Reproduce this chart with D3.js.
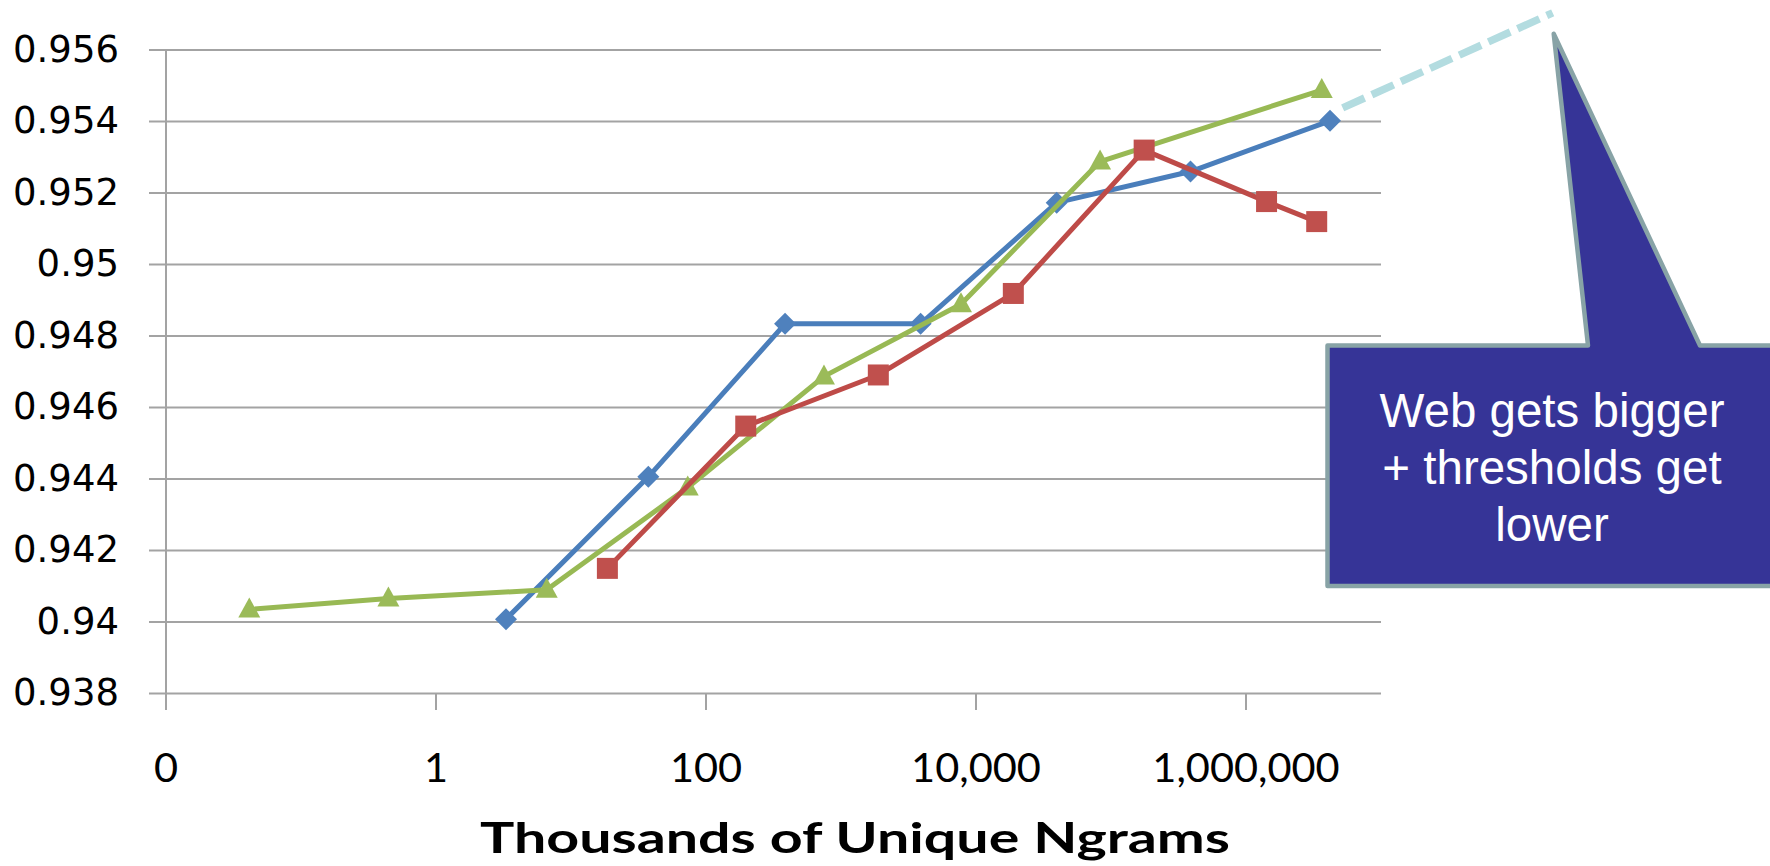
<!DOCTYPE html>
<html><head><meta charset="utf-8">
<script src="https://cdn.jsdelivr.net/npm/d3@7"></script>
<style>html,body{margin:0;padding:0;background:#fff;overflow:hidden}</style>
</head><body>
<svg id="chart" width="1770" height="866"></svg>
<script>
// ---- data ----
const xTickValues = [0.01, 1, 100, 10000, 1000000];
const xTickLabels = ["0", "1", "100", "10,000", "1,000,000"];
const yTickValues = [0.938, 0.940, 0.942, 0.944, 0.946, 0.948, 0.950, 0.952, 0.954, 0.956];
const yTickLabels = ["0.938", "0.94", "0.942", "0.944", "0.946", "0.948", "0.95", "0.952", "0.954", "0.956"];

const blueX = [3.3, 37.4, 385, 3890, 39600, 388000, 4190000];
const blueY = [0.94008, 0.94406, 0.94834, 0.94834, 0.95173, 0.95260, 0.95402];

const redX = [18.6, 197, 1890, 18900, 176000, 1420000, 3340000];
const redY = [0.94150, 0.94548, 0.94691, 0.94919, 0.95320, 0.95176, 0.95120];

const greenX = [0.0414, 0.444, 6.61, 73.2, 748, 7740, 83000, 3640000];
const greenY = [0.94035, 0.94066, 0.94090, 0.94376, 0.94687, 0.94889, 0.95288, 0.95488];

const trendX = [5200000, 187000000];
const trendY = [0.95438, 0.95704];

const xTitle = "Thousands of Unique Ngrams";
const calloutLines = ["Web gets bigger", "+ thresholds get", "lower"];

// ---- layout ----
const svg = d3.select("#chart");
svg.append("rect").attr("width", 1770).attr("height", 866).attr("fill", "#fff");

const x = d3.scaleLog().domain([0.01, 1e7]).range([166, 1381]);
const y = d3.scaleLinear().domain([0.938, 0.956]).range([693.5, 50]);

const gridColor = "#a3a3a3";

// gridlines (with outside tick)
svg.append("g").selectAll("line").data(yTickValues).join("line")
  .attr("x1", 149).attr("x2", x.range()[1])
  .attr("y1", d => y(d)).attr("y2", d => y(d))
  .attr("stroke", gridColor).attr("stroke-width", 2);

// y axis line
svg.append("line").attr("x1", 166).attr("x2", 166).attr("y1", y(0.956)).attr("y2", 710)
  .attr("stroke", gridColor).attr("stroke-width", 2);

// x ticks
svg.append("g").selectAll("line").data(xTickValues).join("line")
  .attr("x1", d => x(d)).attr("x2", d => x(d))
  .attr("y1", y(0.938)).attr("y2", 710)
  .attr("stroke", gridColor).attr("stroke-width", 2);

// y labels
svg.append("g").selectAll("text").data(yTickValues).join("text")
  .attr("x", 119).attr("y", d => y(d) + 11.7)
  .attr("text-anchor", "end")
  .attr("font-family", "DejaVu Sans, Verdana, sans-serif")
  .attr("font-size", 37).attr("fill", "#000")
  .text((d, i) => yTickLabels[i]);

// x labels
svg.append("g").selectAll("text").data(xTickValues).join("text")
  .attr("x", d => x(d)).attr("y", 782)
  .attr("text-anchor", "middle")
  .attr("font-family", "Lato, Carlito, Calibri, sans-serif")
  .attr("font-size", 41.5).attr("fill", "#000")
  .text((d, i) => xTickLabels[i]);

// x title
svg.append("text").attr("x", 855).attr("y", 853)
  .attr("text-anchor", "middle")
  .attr("font-family", "Lato, Carlito, Calibri, sans-serif")
  .attr("font-weight", "bold")
  .attr("font-size", 42).attr("fill", "#000")
  .attr("textLength", 750).attr("lengthAdjust", "spacingAndGlyphs")
  .text(xTitle);

// series
const series = [
  {xs: blueX, ys: blueY, line: "#4A7EBB", fill: "#4F81BD", shape: "diamond"},
  {xs: greenX, ys: greenY, line: "#98B954", fill: "#9BBB59", shape: "triangle"},
  {xs: redX, ys: redY, line: "#BE4B48", fill: "#C0504D", shape: "square"}
];
const lineGen = d3.line().x(d => x(d[0])).y(d => y(d[1]));
function markerPath(shape) {
  if (shape === "diamond") return "M0,-11L11,0L0,11L-11,0Z";
  if (shape === "square") return "M-10.5,-10.5H10.5V10.5H-10.5Z";
  return "M0,-12L11,8L-11,8Z";
}
series.forEach(s => {
  const pts = s.xs.map((v, i) => [v, s.ys[i]]);
  const g = svg.append("g");
  g.append("path").attr("d", lineGen(pts)).attr("fill", "none")
    .attr("stroke", s.line).attr("stroke-width", 5).attr("stroke-linejoin", "round");
  g.selectAll("path.m").data(pts).join("path").attr("class", "m")
    .attr("transform", d => `translate(${x(d[0])},${y(d[1])})`)
    .attr("d", markerPath(s.shape)).attr("fill", s.fill);
});

// dashed trend annotation
svg.append("line")
  .attr("x1", x(trendX[0])).attr("y1", y(trendY[0]))
  .attr("x2", x(trendX[1])).attr("y2", y(trendY[1]))
  .attr("stroke", "#b3dce0").attr("stroke-width", 7.5).attr("stroke-dasharray", "24 8");

// callout
const tipX = x(trendX[1]) + 1, tipY = y(trendY[1]) + 21;
const boxL = 1327.5, boxT = 345.5, boxB = 586, boxR = 1790;
svg.append("path")
  .attr("d", `M${boxL},${boxT}H1588L${tipX},${tipY}L1700,${boxT}H${boxR}V${boxB}H${boxL}Z`)
  .attr("fill", "#363497").attr("stroke", "#88a3a6").attr("stroke-width", 4.5)
  .attr("stroke-linejoin", "round");

svg.append("g").selectAll("text").data(calloutLines).join("text")
  .attr("x", 1552).attr("y", (d, i) => 426.7 + i * 57)
  .attr("text-anchor", "middle")
  .attr("font-family", "Liberation Sans, Arial, sans-serif")
  .attr("font-size", 47.5).attr("fill", "#fff")
  .text(d => d);
</script>
</body></html>
